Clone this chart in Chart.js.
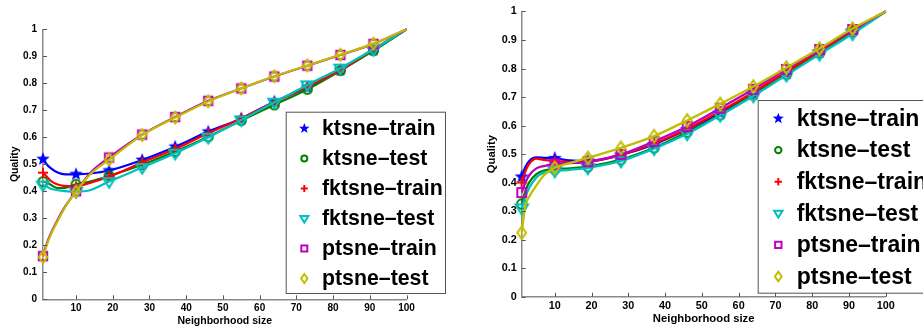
<!DOCTYPE html>
<html>
<head>
<meta charset="utf-8">
<script src="https://cdn.jsdelivr.net/npm/chart.js@4.4.0/dist/chart.umd.min.js"></script>
<style>
  html, body { margin: 0; padding: 0; background: #fff; }
  #wrap { position: relative; width: 923px; height: 335px; overflow: hidden; }
  #left { position: absolute; left: 0; top: 0; }
  #right { position: absolute; left: 461px; top: 0; }
</style>
</head>
<body>
<div id="wrap">
  <canvas id="left" width="461" height="335"></canvas>
  <canvas id="right" width="462" height="335"></canvas>
</div>
<script>
// series
const seriesNames = ['ktsne–train', 'ktsne–test', 'fktsne–train', 'fktsne–test', 'ptsne–train', 'ptsne–test'];
const seriesColors = ['#0000ff', '#008000', '#ff0000', '#00bfbf', '#bf00bf', '#bfbf00'];
const markerKinds = ['star', 'circle', 'plus', 'tri', 'square', 'diamond'];

// ticks
const xTickValues = [10, 20, 30, 40, 50, 60, 70, 80, 90, 100];
const yTickValues = [0, 0.1, 0.2, 0.3, 0.4, 0.5, 0.6, 0.7, 0.8, 0.9, 1];
const yTickLabels = ['0', '0.1', '0.2', '0.3', '0.4', '0.5', '0.6', '0.7', '0.8', '0.9', '1'];
const markerX = [1, 10, 19, 28, 37, 46, 55, 64, 73, 82, 91];

// left plot
const leftX = [1, 2, 3, 5, 7, 10, 14, 19, 28, 37, 46, 55, 64, 73, 82, 91, 100];
const leftKtsneTrain  = [0.519, 0.500, 0.487, 0.470, 0.463, 0.463, 0.466, 0.477, 0.516, 0.565, 0.621, 0.670, 0.732, 0.785, 0.849, 0.923, 1.0];
const leftKtsneTest   = [0.436, 0.433, 0.425, 0.412, 0.413, 0.426, 0.437, 0.457, 0.498, 0.547, 0.602, 0.662, 0.720, 0.778, 0.847, 0.921, 1.0];
const leftFktsneTrain = [0.469, 0.455, 0.440, 0.425, 0.420, 0.418, 0.432, 0.454, 0.507, 0.557, 0.615, 0.670, 0.730, 0.788, 0.849, 0.926, 1.0];
const leftFktsneTest  = [0.423, 0.418, 0.410, 0.404, 0.401, 0.399, 0.405, 0.436, 0.488, 0.541, 0.600, 0.664, 0.730, 0.794, 0.856, 0.926, 1.0];
const leftPtsneTrain  = [0.160, 0.205, 0.240, 0.295, 0.343, 0.400, 0.470, 0.525, 0.610, 0.675, 0.735, 0.781, 0.825, 0.865, 0.905, 0.946, 1.0];
const leftPtsneTest   = [0.156, 0.200, 0.235, 0.290, 0.340, 0.399, 0.465, 0.517, 0.608, 0.673, 0.733, 0.781, 0.826, 0.866, 0.906, 0.947, 1.0];

// right plot
const rightX = [1, 2, 3, 5, 7, 10, 14, 19, 28, 37, 46, 55, 64, 73, 82, 91, 100];
const rightKtsneTrain  = [0.420, 0.455, 0.475, 0.488, 0.487, 0.485, 0.478, 0.476, 0.497, 0.534, 0.586, 0.644, 0.710, 0.783, 0.858, 0.934, 1.0];
const rightKtsneTest   = [0.325, 0.370, 0.400, 0.430, 0.442, 0.447, 0.450, 0.456, 0.481, 0.522, 0.577, 0.638, 0.710, 0.780, 0.855, 0.928, 1.0];
const rightFktsneTrain = [0.400, 0.440, 0.465, 0.484, 0.480, 0.476, 0.472, 0.473, 0.497, 0.537, 0.588, 0.650, 0.717, 0.789, 0.861, 0.934, 1.0];
const rightFktsneTest  = [0.310, 0.350, 0.380, 0.418, 0.435, 0.441, 0.445, 0.452, 0.476, 0.519, 0.571, 0.636, 0.704, 0.777, 0.850, 0.922, 1.0];
const rightPtsneTrain  = [0.365, 0.400, 0.425, 0.450, 0.458, 0.465, 0.468, 0.473, 0.499, 0.545, 0.597, 0.661, 0.727, 0.797, 0.867, 0.937, 1.0];
const rightPtsneTest   = [0.224, 0.320, 0.350, 0.390, 0.425, 0.452, 0.468, 0.487, 0.522, 0.563, 0.618, 0.676, 0.737, 0.803, 0.870, 0.940, 1.0];

const FONT = '"Liberation Sans", Arial, Helvetica, sans-serif';

// marker shapes, shared by the points and the legend
function drawShape(g, kind, s) {
  g.beginPath();
  if (kind === 'star') {
    for (let k = 0; k < 10; k++) {
      const r = k % 2 === 0 ? s : s * 0.42;
      const a = -Math.PI / 2 + k * Math.PI / 5;
      if (k === 0) g.moveTo(r * Math.cos(a), r * Math.sin(a));
      else g.lineTo(r * Math.cos(a), r * Math.sin(a));
    }
    g.closePath();
    g.fill();
  } else if (kind === 'circle') {
    g.arc(0, 0, s, 0, Math.PI * 2);
    g.stroke();
  } else if (kind === 'plus') {
    g.moveTo(-s, 0); g.lineTo(s, 0);
    g.moveTo(0, -s); g.lineTo(0, s);
    g.stroke();
  } else if (kind === 'tri') {
    g.moveTo(-s, -s * 0.6); g.lineTo(s, -s * 0.6); g.lineTo(0, s);
    g.closePath();
    g.stroke();
  } else if (kind === 'square') {
    g.rect(-s, -s, 2 * s, 2 * s);
    g.stroke();
  } else if (kind === 'diamond') {
    g.moveTo(0, -s * 1.4); g.lineTo(s, 0); g.lineTo(0, s * 1.4); g.lineTo(-s, 0);
    g.closePath();
    g.stroke();
  }
}

function makeMarker(kind, color, s, lw) {
  const size = Math.ceil(2 * s * 1.4 + lw + 4);
  const c = document.createElement('canvas');
  c.width = size; c.height = size;
  const g = c.getContext('2d');
  g.translate(size / 2, size / 2);
  g.strokeStyle = color; g.fillStyle = color; g.lineWidth = lw;
  drawShape(g, kind, s);
  return c;
}

// inward ticks + boxed legend
const extras = {
  id: 'extras',
  afterDraw(chart, args, o) {
    const ctx = chart.ctx;
    const { left, bottom } = chart.chartArea;
    const xs = chart.scales.x, ys = chart.scales.y;
    ctx.save();
    ctx.strokeStyle = '#555';
    ctx.lineWidth = 1;
    xTickValues.forEach(v => {
      const px = Math.round(xs.getPixelForValue(v)) + 0.5;
      ctx.beginPath(); ctx.moveTo(px, bottom); ctx.lineTo(px, bottom - 4); ctx.stroke();
    });
    yTickValues.forEach(v => {
      const py = Math.round(ys.getPixelForValue(v)) + 0.5;
      ctx.beginPath(); ctx.moveTo(left, py); ctx.lineTo(left + 4, py); ctx.stroke();
    });

    // legend
    const L = o.legend;
    ctx.fillStyle = '#fff';
    ctx.fillRect(L.x0, L.y0, L.x1 - L.x0, L.y1 - L.y0);
    ctx.strokeStyle = '#555';
    ctx.strokeRect(L.x0 + 0.5, L.y0 + 0.5, L.x1 - L.x0, L.y1 - L.y0);
    ctx.font = 'bold ' + L.font + 'px ' + FONT;
    ctx.textBaseline = 'middle';
    seriesNames.forEach((name, i) => {
      const y = L.rowY + i * L.step;
      ctx.save();
      ctx.translate(L.mx, y);
      ctx.strokeStyle = seriesColors[i];
      ctx.fillStyle = seriesColors[i];
      ctx.lineWidth = 2;
      drawShape(ctx, markerKinds[i], L.ms[i]);
      ctx.restore();
      ctx.fillStyle = '#000';
      ctx.fillText(name, L.tx, y + 1);
    });
    ctx.restore();
  }
};

function makeChart(id, xs, series, geo) {
  const datasets = series.map((ys, i) => ({
    label: seriesNames[i],
    data: xs.map((x, k) => ({ x: x, y: ys[k] })),
    borderColor: seriesColors[i],
    backgroundColor: seriesColors[i],
    borderWidth: geo.lw,
    cubicInterpolationMode: 'monotone',
    pointStyle: makeMarker(markerKinds[i], seriesColors[i], geo.ms[i], 2),
    pointRadius: c => (c.raw && markerX.includes(c.raw.x)) ? 5 : 0,
    pointHoverRadius: 0,
    clip: false,
    order: series.length - i
  }));

  const tickFont = { family: FONT, size: geo.tickSize, weight: 'bold' };
  const titleFont = { family: FONT, size: geo.titleSize, weight: 'bold' };

  return new Chart(document.getElementById(id), {
    type: 'line',
    data: { datasets: datasets },
    options: {
      responsive: false,
      animation: false,
      events: [],
      layout: { padding: { top: geo.top, right: geo.right, left: 0, bottom: 0 } },
      plugins: {
        legend: { display: false },
        tooltip: { enabled: false },
        extras: { legend: geo.legend }
      },
      scales: {
        x: {
          type: 'linear',
          min: 1,
          max: 100,
          afterBuildTicks: s => { s.ticks = xTickValues.map(v => ({ value: v })); },
          afterFit: s => { s.height = geo.xh; },
          grid: { drawOnChartArea: false, drawTicks: false },
          border: { color: '#8a8a8a', width: 1.5 },
          ticks: { color: '#000', font: tickFont, padding: geo.xtp, maxRotation: 0, autoSkip: false },
          title: { display: true, text: 'Neighborhood size', color: '#000', font: titleFont, padding: { top: 0, bottom: geo.xTitlePad } }
        },
        y: {
          min: 0,
          max: 1,
          afterBuildTicks: s => { s.ticks = yTickValues.map(v => ({ value: v })); },
          afterFit: s => { s.width = geo.yw; },
          grid: { drawOnChartArea: false, drawTicks: false },
          border: { color: '#8a8a8a', width: 1.5 },
          ticks: { color: '#000', font: tickFont, padding: geo.ytp, callback: (v, i) => yTickLabels[i] },
          title: { display: true, text: 'Quality', color: '#000', font: titleFont, padding: { top: geo.yTitlePad, bottom: 0 } }
        }
      }
    },
    plugins: [extras]
  });
}

makeChart('left', leftX,
  [leftKtsneTrain, leftKtsneTest, leftFktsneTrain, leftFktsneTest, leftPtsneTrain, leftPtsneTest],
  {
    lw: 2.2, ms: [7, 4.5, 5, 6, 4.2, 4.2],
    top: 29.3, right: 54.5, xh: 35.7, yw: 43,
    tickSize: 10, titleSize: 10.5, xtp: 3, ytp: 6, xTitlePad: 8, yTitlePad: 8.7,
    legend: { x0: 285.7, x1: 445, y0: 111.7, y1: 293, mx: 304.3, tx: 322, rowY: 128.5, step: 30, font: 21.3,
              ms: [5.5, 3, 3.5, 4, 3, 3.2] }
  });

makeChart('right', rightX,
  [rightKtsneTrain, rightKtsneTest, rightFktsneTrain, rightFktsneTest, rightPtsneTrain, rightPtsneTest],
  {
    lw: 2.3, ms: [7.4, 4.7, 5.2, 6.3, 4.4, 4.4],
    top: 9.3, right: 37.3, xh: 38.3, yw: 60.7,
    tickSize: 10.8, titleSize: 11.3, xtp: 3, ytp: 5, xTitlePad: 9.2, yTitlePad: 24.2,
    legend: { x0: 296.7, x1: 480, y0: 100, y1: 292.7, mx: 317.3, tx: 335.7, rowY: 118.5, step: 31.6, font: 23,
              ms: [5.8, 3.2, 3.7, 4.2, 3.2, 3.4] }
  });
</script>
</body>
</html>
